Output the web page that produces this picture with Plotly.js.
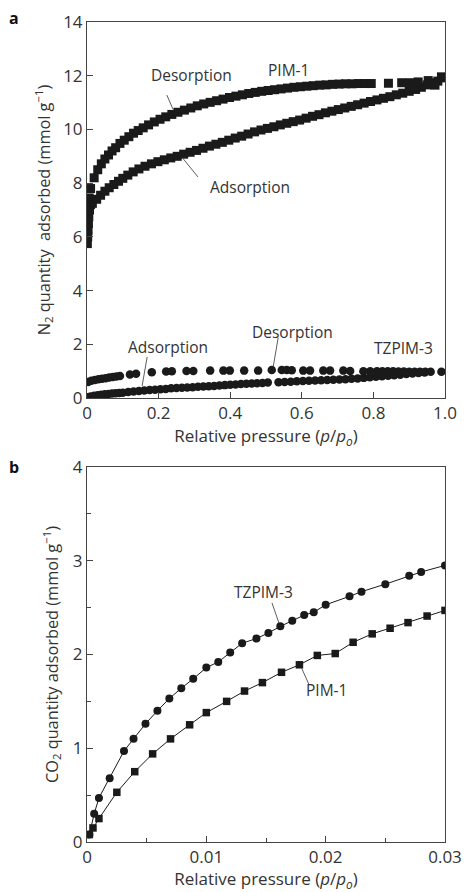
<!DOCTYPE html>
<html>
<head>
<meta charset="utf-8">
<script src="https://cdn.plot.ly/plotly-3.0.1.min.js"></script>
<style>html,body{margin:0;padding:0;background:#fff;}#chart{width:465px;height:892px;}</style>
</head>
<body>
<div id="chart"></div>
<script>
// ---- Panel a: N2 isotherms ----
const pimAdsX = [0.001,0.002,0.003,0.004,0.005,0.007,0.010,0.015,0.027,0.038,0.050,0.062,0.075,0.088,0.100,0.114,0.129,0.145,0.162,0.180,0.198,0.216,0.234,0.252,0.270,0.288,0.306,0.324,0.342,0.360,0.378,0.396,0.414,0.432,0.450,0.468,0.486,0.504,0.522,0.540,0.558,0.576,0.594,0.612,0.630,0.648,0.666,0.684,0.702,0.720,0.738,0.756,0.774,0.792,0.810,0.828,0.846,0.864,0.882,0.900,0.918,0.934,0.950,0.965,0.980,0.995];
const pimAdsY = [5.75,6.0,6.25,6.5,6.75,7.0,7.2,7.25,7.4,7.55,7.7,7.83,7.95,8.07,8.18,8.30,8.42,8.53,8.63,8.72,8.80,8.87,8.94,9.00,9.08,9.15,9.22,9.30,9.38,9.45,9.52,9.60,9.68,9.75,9.83,9.91,9.98,10.04,10.10,10.17,10.23,10.29,10.35,10.42,10.49,10.55,10.62,10.68,10.74,10.80,10.86,10.92,10.98,11.04,11.10,11.16,11.22,11.29,11.35,11.42,11.49,11.57,11.66,11.74,11.80,11.92];
const pimDesX = [0.002,0.004,0.006,0.010,0.020,0.030,0.040,0.050,0.060,0.070,0.080,0.092,0.104,0.117,0.130,0.143,0.157,0.172,0.188,0.204,0.220,0.237,0.254,0.272,0.290,0.308,0.326,0.344,0.362,0.380,0.398,0.416,0.434,0.452,0.470,0.488,0.506,0.524,0.542,0.560,0.578,0.596,0.614,0.632,0.650,0.668,0.686,0.704,0.722,0.740,0.758,0.776,0.794,0.842,0.879,0.902,0.925,0.953,0.972,0.990];
const pimDesY = [7.0,7.3,7.45,7.8,8.2,8.5,8.72,8.9,9.05,9.2,9.32,9.48,9.60,9.73,9.86,9.96,10.06,10.17,10.28,10.38,10.47,10.56,10.64,10.72,10.80,10.88,10.95,11.01,11.07,11.13,11.19,11.24,11.29,11.34,11.38,11.42,11.45,11.48,11.51,11.54,11.57,11.59,11.61,11.63,11.65,11.66,11.68,11.69,11.70,11.70,11.71,11.71,11.71,11.72,11.74,11.74,11.77,11.82,11.65,11.96];
const tzAdsX = [0.002,0.01,0.02,0.03,0.04,0.05,0.06,0.07,0.08,0.09,0.10,0.115,0.13,0.145,0.16,0.175,0.19,0.205,0.22,0.235,0.25,0.265,0.28,0.295,0.31,0.325,0.34,0.355,0.37,0.385,0.40,0.415,0.43,0.445,0.46,0.475,0.49,0.505,0.535,0.552,0.569,0.586,0.603,0.62,0.637,0.654,0.671,0.688,0.705,0.722,0.739,0.756,0.773,0.79,0.807,0.824,0.841,0.858,0.875,0.892,0.909,0.926,0.943];
const tzAdsY = [0.03,0.06,0.08,0.10,0.12,0.14,0.15,0.17,0.18,0.19,0.20,0.22,0.24,0.26,0.28,0.30,0.31,0.33,0.34,0.36,0.37,0.38,0.39,0.40,0.42,0.43,0.44,0.45,0.47,0.48,0.49,0.50,0.52,0.53,0.54,0.55,0.56,0.58,0.59,0.60,0.61,0.62,0.63,0.64,0.65,0.66,0.67,0.68,0.69,0.70,0.72,0.73,0.75,0.77,0.79,0.81,0.83,0.85,0.87,0.89,0.91,0.93,0.95];
const tzDesX = [0.003,0.012,0.022,0.032,0.042,0.052,0.062,0.072,0.082,0.092,0.120,0.137,0.181,0.221,0.237,0.278,0.297,0.344,0.381,0.399,0.439,0.478,0.516,0.544,0.558,0.572,0.604,0.623,0.660,0.679,0.716,0.735,0.772,0.791,0.81,0.825,0.84,0.855,0.87,0.885,0.90,0.915,0.93,0.945,0.96,0.99];
const tzDesY = [0.60,0.64,0.67,0.70,0.72,0.74,0.76,0.78,0.80,0.82,0.88,0.90,0.96,0.99,1.00,1.01,1.01,1.02,1.02,1.02,1.02,1.02,1.04,1.04,1.04,1.03,1.02,1.02,1.02,1.02,1.02,1.01,1.00,1.00,1.00,1.00,1.00,1.00,0.99,0.99,0.98,0.98,0.98,0.98,0.98,0.98];
const aXTickVals = [0,0.2,0.4,0.6,0.8,1.0];
const aXTickText = ["0","0.2","0.4","0.6","0.8","1.0"];

// ---- Panel b: CO2 isotherms ----
const co2TzX = [0.0002,0.0006,0.001,0.0019,0.0031,0.0039,0.0049,0.0059,0.0069,0.0079,0.0089,0.0100,0.0110,0.0120,0.0130,0.0142,0.0152,0.0162,0.0172,0.0182,0.0190,0.0200,0.0220,0.0230,0.0250,0.0270,0.0280,0.0300];
const co2TzY = [0.08,0.30,0.47,0.68,0.97,1.10,1.26,1.40,1.53,1.64,1.74,1.86,1.92,2.02,2.12,2.17,2.23,2.30,2.36,2.42,2.45,2.53,2.62,2.67,2.75,2.84,2.88,2.95];
const co2PimX = [0.0002,0.0005,0.001,0.0025,0.004,0.0055,0.0070,0.0086,0.0100,0.0117,0.0132,0.0147,0.0163,0.0178,0.0193,0.0208,0.0223,0.0239,0.0254,0.0269,0.0285,0.0300];
const co2PimY = [0.08,0.15,0.25,0.53,0.75,0.94,1.10,1.25,1.38,1.50,1.61,1.70,1.81,1.89,1.99,2.01,2.13,2.22,2.28,2.34,2.41,2.47];
const bXTickVals = [0,0.01,0.02,0.03];
const bXTickText = ["0","0.01","0.02","0.03"];

const ink = '#1a1a1a';
const txt = '#333333';
const FONT = '"Open Sans", "DejaVu Sans", sans-serif';

const traces = [
  {x: pimAdsX, y: pimAdsY, xaxis:'x', yaxis:'y', mode:'markers', marker:{symbol:'square', size:9, color:ink}, name:'PIM-1 ads'},
  {x: pimDesX, y: pimDesY, xaxis:'x', yaxis:'y', mode:'markers', marker:{symbol:'square', size:9, color:ink}, name:'PIM-1 des'},
  {x: tzAdsX, y: tzAdsY, xaxis:'x', yaxis:'y', mode:'markers', marker:{symbol:'circle', size:8.5, color:ink}, name:'TZPIM-3 ads'},
  {x: tzDesX, y: tzDesY, xaxis:'x', yaxis:'y', mode:'markers', marker:{symbol:'circle', size:8.5, color:ink}, name:'TZPIM-3 des'},
  {x: co2TzX, y: co2TzY, xaxis:'x2', yaxis:'y2', mode:'lines+markers', line:{color:ink, width:1}, marker:{symbol:'circle', size:8, color:ink}, name:'TZPIM-3'},
  {x: co2PimX, y: co2PimY, xaxis:'x2', yaxis:'y2', mode:'lines+markers', line:{color:ink, width:1}, marker:{symbol:'square', size:7.5, color:ink}, name:'PIM-1'}
];

const axisCommon = {
  showline:true, linecolor:'#444', linewidth:1, mirror:true,
  ticks:'inside', ticklen:6, tickcolor:'#444', tickwidth:1,
  showgrid:false, zeroline:false,
  tickfont:{family:FONT, size:17, color:txt}
};
const xTitle = {text:'Relative pressure (<i>p</i>/<i>p</i><sub><i>o</i></sub>)', font:{family:FONT, size:17, color:txt}, standoff:4};

const layout = {
  width:465, height:892,
  margin:{l:0, r:0, t:0, b:0},
  paper_bgcolor:'#fff', plot_bgcolor:'#fff',
  showlegend:false,
  font:{family:FONT, color:txt},
  xaxis: Object.assign({}, axisCommon, {domain:[0.1871,0.957], range:[0,1], tickvals:aXTickVals, ticktext:aXTickText, anchor:'y', title:xTitle}),
  yaxis: Object.assign({}, axisCommon, {domain:[0.5538,0.9753], range:[0,14], dtick:2, anchor:'x',
    title:{text:'N<sub>2</sub> quantity  adsorbed (mmol g<sup>−1</sup>)', font:{family:FONT, size:16.3, color:txt}, standoff:8}}),
  xaxis2: Object.assign({}, axisCommon, {domain:[0.1871,0.957], range:[0,0.03], tickvals:bXTickVals, ticktext:bXTickText, anchor:'y2', title:xTitle,
    minor:{dtick:0.005, ticks:'inside', ticklen:4, tickcolor:'#444'}}),
  yaxis2: Object.assign({}, axisCommon, {domain:[0.05605,0.4765], range:[0,4], dtick:1, anchor:'x2',
    minor:{dtick:0.5, ticks:'inside', ticklen:4, tickcolor:'#444'},
    title:{text:'CO<sub>2</sub> quantity adsorbed (mmol g<sup>−1</sup>)', font:{family:FONT, size:16.3, color:txt}, standoff:10}}),
  annotations: [
    {xref:'paper', yref:'paper', x:0.03, y:0.98, text:'<b>a</b>', showarrow:false, font:{family:FONT, size:16, color:'#111'}, xanchor:'center', yanchor:'middle'},
    {xref:'paper', yref:'paper', x:0.03, y:0.476, text:'<b>b</b>', showarrow:false, font:{family:FONT, size:16, color:'#111'}, xanchor:'center', yanchor:'middle'},
    {xref:'x', yref:'y', x:0.293, y:12.03, text:'Desorption', showarrow:false, font:{family:FONT, size:15.5, color:txt}},
    {xref:'x', yref:'y', x:0.564, y:12.21, text:'PIM-1', showarrow:false, font:{family:FONT, size:15.5, color:txt}},
    {xref:'x', yref:'y', x:0.455, y:7.86, text:'Adsorption', showarrow:false, font:{family:FONT, size:15.5, color:txt}},
    {xref:'x', yref:'y', x:0.226, y:1.90, text:'Adsorption', showarrow:false, font:{family:FONT, size:15.5, color:txt}},
    {xref:'x', yref:'y', x:0.573, y:2.46, text:'Desorption', showarrow:false, font:{family:FONT, size:15.5, color:txt}},
    {xref:'x', yref:'y', x:0.883, y:1.86, text:'TZPIM-3', showarrow:false, font:{family:FONT, size:15.5, color:txt}},
    {xref:'x2', yref:'y2', x:0.01475, y:2.67, text:'TZPIM-3', showarrow:false, font:{family:FONT, size:15.5, color:txt}},
    {xref:'x2', yref:'y2', x:0.0201, y:1.62, text:'PIM-1', showarrow:false, font:{family:FONT, size:15.5, color:txt}}
  ],
  shapes: [
    {type:'line', xref:'x', yref:'y', x0:0.223, y0:11.28, x1:0.240, y1:10.76, line:{color:txt, width:0.8}},
    {type:'line', xref:'x', yref:'y', x0:0.265, y0:8.97, x1:0.31, y1:8.23, line:{color:txt, width:0.8}},
    {type:'line', xref:'x', yref:'y', x0:0.168, y0:1.53, x1:0.154, y1:0.45, line:{color:txt, width:0.8}},
    {type:'line', xref:'x', yref:'y', x0:0.534, y0:2.24, x1:0.52, y1:1.15, line:{color:txt, width:0.8}},
    {type:'line', xref:'x2', yref:'y2', x0:0.0155, y0:2.55, x1:0.0161, y1:2.33, line:{color:txt, width:0.8}},
    {type:'line', xref:'x2', yref:'y2', x0:0.018, y0:1.85, x1:0.0186, y1:1.68, line:{color:txt, width:0.8}}
  ]
};

Plotly.newPlot('chart', traces, layout, {staticPlot:true, displayModeBar:false});
</script>
</body>
</html>
